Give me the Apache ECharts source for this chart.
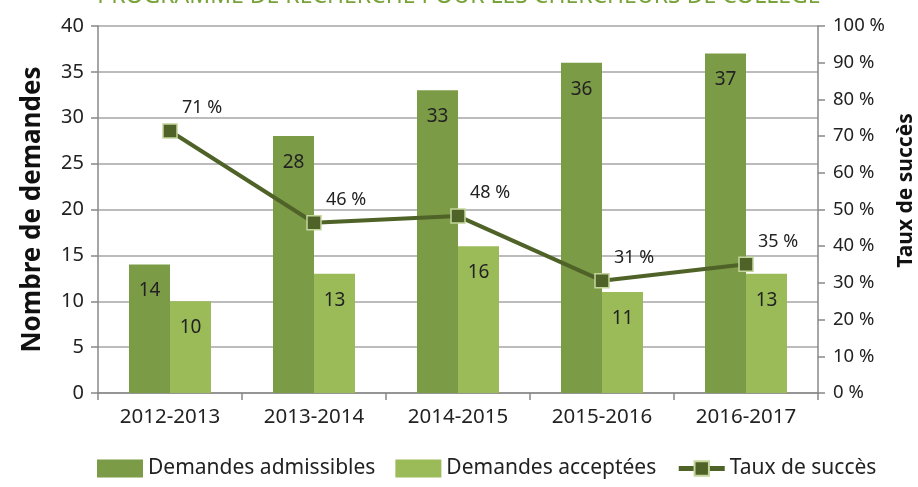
<!DOCTYPE html>
<html>
  <head>
    <meta charset="utf-8" />
    <title>ECharts</title>
    <script src="https://cdn.jsdelivr.net/npm/echarts@6/dist/echarts.min.js"></script>
    <style>body{margin:0;background:#fff;}</style>
  </head>
  <body>
    <div id="main" style="width: 918px;height:487px;"></div>
    <script type="text/javascript">
      var annees = ['2012-2013', '2013-2014', '2014-2015', '2015-2016', '2016-2017'];
      var admissibles = [14, 28, 33, 36, 37];
      var acceptees = [10, 13, 16, 11, 13];
      var tauxSucces = [71.4, 46.4, 48.2, 30.6, 35.1];

      var police = 'Noto Sans';
      var myChart = echarts.init(document.getElementById('main'));

      var option = {
        textStyle: { fontFamily: police },
        title: {
          text: 'PROGRAMME DE RECHERCHE POUR LES CHERCHEURS DE COLLÈGE',
          left: 'center',
          top: -20,
          textStyle: { color: '#77a33a', fontSize: 23, fontWeight: 'normal', fontFamily: police }
        },
        legend: {
          bottom: 3,
          left: 92,
          itemGap: 20,
          itemWidth: 46,
          itemHeight: 18,
          textStyle: { fontSize: 21, color: '#222' },
          data: [
            { name: 'Demandes admissibles', icon: 'rect' },
            { name: 'Demandes acceptées', icon: 'rect' },
            { name: 'Taux de succès', lineStyle: { width: 5 } }
          ]
        },
        grid: { left: 98, right: 100, top: 26, bottom: 94, outerBoundsMode: 'none' },
        xAxis: {
          type: 'category',
          data: annees,
          axisLine: { lineStyle: { color: '#888', width: 1.5 } },
          axisTick: { show: true, length: 7, lineStyle: { color: '#888', width: 1.5 } },
          axisLabel: { fontSize: 20.5, color: '#222', margin: 14 }
        },
        yAxis: [
          {
            type: 'value',
            min: 0, max: 40, interval: 5,
            name: 'Nombre de demandes',
            nameLocation: 'middle',
            nameGap: 52,
            nameTextStyle: { fontSize: 26, fontWeight: 'bold', color: '#111' },
            axisLine: { show: true, lineStyle: { color: '#888', width: 1.5 } },
            axisTick: { show: true, length: 7, lineStyle: { color: '#888', width: 1.5 } },
            axisLabel: { fontSize: 20, color: '#222', margin: 14 },
            splitLine: { lineStyle: { color: '#a6a6a6', width: 1.5 } }
          },
          {
            type: 'value',
            min: 0, max: 100, interval: 10,
            name: 'Taux de succès',
            nameLocation: 'middle',
            nameGap: 74,
            nameRotate: 90,
            nameTextStyle: { fontSize: 21, fontWeight: 'bold', color: '#111', padding: [0, 0, 0, 38] },
            axisLine: { show: true, lineStyle: { color: '#888', width: 1.5 } },
            axisTick: { show: true, length: 7, lineStyle: { color: '#888', width: 1.5 } },
            axisLabel: { fontSize: 18.5, color: '#222', margin: 15, formatter: '{value} %' },
            splitLine: { show: false }
          }
        ],
        series: [
          {
            name: 'Demandes admissibles',
            type: 'bar',
            data: admissibles,
            barWidth: 41,
            barGap: '0%',
            itemStyle: { color: '#7c9b47' },
            label: { show: true, position: 'insideTop', distance: 17, fontSize: 19, color: '#222' }
          },
          {
            name: 'Demandes acceptées',
            type: 'bar',
            data: acceptees,
            barWidth: 41,
            barGap: '0%',
            itemStyle: { color: '#9bbb59' },
            label: { show: true, position: 'insideTop', distance: 17, fontSize: 19, color: '#222' }
          },
          {
            name: 'Taux de succès',
            type: 'line',
            yAxisIndex: 1,
            data: tauxSucces,
            symbol: 'rect',
            symbolSize: 14,
            lineStyle: { color: '#4f6228', width: 4 },
            itemStyle: { color: '#4f6228', borderColor: '#c3d69b', borderWidth: 1.5 },
            label: {
              show: true, position: 'top', offset: [32, -1], fontSize: 18, color: '#222',
              formatter: function (p) { return Math.round(p.value) + ' %'; }
            },
            z: 5
          }
        ]
      };
      myChart.setOption(option);
    </script>
  </body>
</html>
